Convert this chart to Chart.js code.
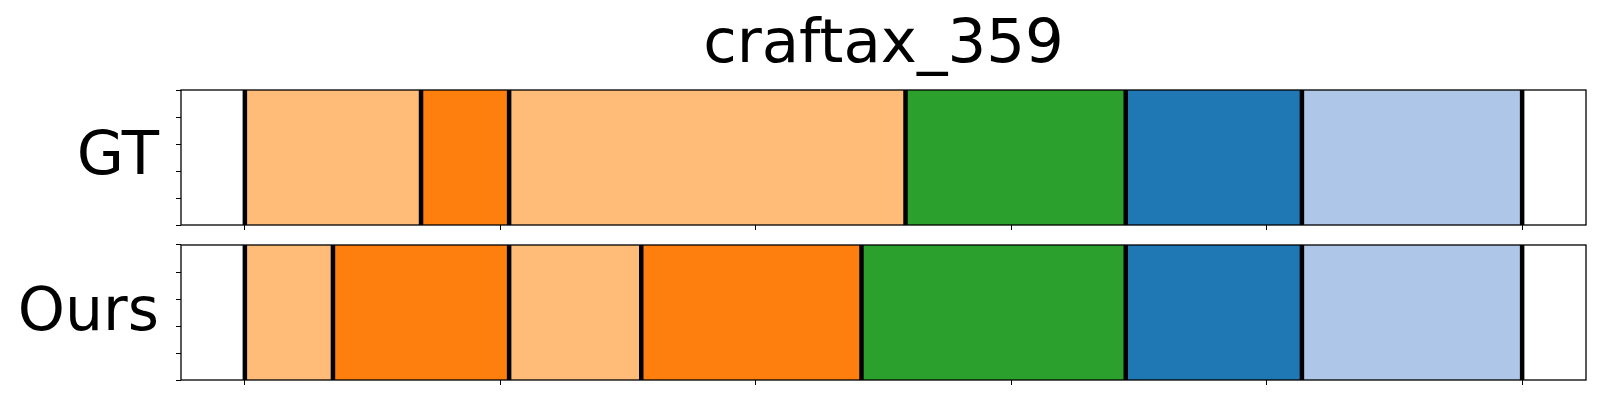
<!DOCTYPE html>
<html>
<head>
<meta charset="utf-8">
<script src="https://cdn.jsdelivr.net/npm/chart.js@4/dist/chart.umd.min.js"></script>
<style>
  body { margin: 0; background: #fff; }
  #wrap { position: relative; width: 1600px; height: 400px; overflow: hidden; }
  canvas { position: absolute; left: 0; }
  .txt { position: absolute; font-family: "DejaVu Sans", sans-serif; font-size: 60px; line-height: 60px; color: #000; white-space: nowrap; }
</style>
</head>
<body>
<div id="wrap">
  <div class="txt" id="title" style="left:181px; width:1405px; top:11px; text-align:center; font-size:61px;">craftax_359</div>
  <div class="txt" style="left:0; width:159px; top:123px; text-align:right; font-size:61px;">GT</div>
  <div class="txt" style="left:0; width:159px; top:279px; text-align:right;">Ours</div>
  <canvas id="gtChart" width="1600" height="240" style="top:0"></canvas>
  <canvas id="oursChart" width="1600" height="160" style="top:240px"></canvas>
</div>
<script>
// segment lengths (in steps) and class id of each segment, left to right
var gtLengths = [4, 2, 9, 5, 4, 5];
var gtClasses = [3, 2, 3, 4, 0, 1];
var oursLengths = [2, 4, 3, 5, 6, 4, 5];
var oursClasses = [3, 2, 3, 2, 4, 0, 1];
var xTicks = [0, 5.8, 11.6, 17.4, 23.2, 29];
var yTicks = [0, 0.25, 0.5, 0.75, 1];

// tab20 colours
var palette = ["#1f77b4", "#aec7e8", "#ff7f0e", "#ffbb78", "#2ca02c"];

var total = gtLengths.reduce((a, b) => a + b, 0);
var margin = total * 0.05;

function buildDatasets(lengths, classes) {
  var start = 0;
  return lengths.map((len, i) => {
    var ds = {
      label: "seg" + i,
      data: [[start, start + len]],
      backgroundColor: palette[classes[i]],
      borderWidth: 0,
      barPercentage: 1,
      categoryPercentage: 1,
      grouped: false,
      yAxisID: "y",
    };
    start += len;
    return ds;
  });
}

// black boundary lines + frame around the axes
var segmentLines = {
  id: "segmentLines",
  afterDatasetsDraw(chart) {
    var ctx = chart.ctx;
    var area = chart.chartArea;
    var x = chart.scales.x;
    var bounds = [0];
    chart.data.datasets.forEach((ds) => bounds.push(ds.data[0][1]));
    ctx.save();
    ctx.strokeStyle = "#000";
    ctx.lineWidth = 4.5;
    bounds.forEach((b) => {
      var px = x.getPixelForValue(b);
      ctx.beginPath();
      ctx.moveTo(px, area.top);
      ctx.lineTo(px, area.bottom);
      ctx.stroke();
    });
    ctx.lineWidth = 1.3;
    ctx.strokeRect(area.left, area.top, area.right - area.left, area.bottom - area.top);
    ctx.restore();
  },
};

function makeChart(id, lengths, classes, padTop, xHeight) {
  new Chart(document.getElementById(id), {
    type: "bar",
    data: {
      labels: ["row"],
      datasets: buildDatasets(lengths, classes),
    },
    plugins: [segmentLines],
    options: {
      indexAxis: "y",
      responsive: false,
      animation: false,
      devicePixelRatio: 1,
      layout: { padding: { left: 161, right: 14, top: padTop, bottom: 0 } },
      plugins: { legend: { display: false }, tooltip: { enabled: false } },
      scales: {
        x: {
          type: "linear",
          min: -margin,
          max: total + margin,
          ticks: { display: false },
          grid: { drawOnChartArea: false, drawTicks: true, tickLength: 5, color: "#000", lineWidth: 1 },
          border: { display: false },
          afterBuildTicks: (axis) => { axis.ticks = xTicks.map((v) => ({ value: v })); },
          afterFit: (axis) => { axis.height = xHeight; },
        },
        y: {
          type: "category",
          display: false,
        },
        yt: {
          type: "linear",
          position: "left",
          min: 0,
          max: 1,
          ticks: { display: false },
          grid: { drawOnChartArea: false, drawTicks: true, tickLength: 5, color: "#000", lineWidth: 1 },
          border: { display: false },
          afterBuildTicks: (axis) => { axis.ticks = yTicks.map((v) => ({ value: v })); },
          afterFit: (axis) => { axis.width = 20; },
        },
      },
    },
  });
}

makeChart("gtChart", gtLengths, gtClasses, 90, 15);
makeChart("oursChart", oursLengths, oursClasses, 5, 20);
</script>
</body>
</html>
